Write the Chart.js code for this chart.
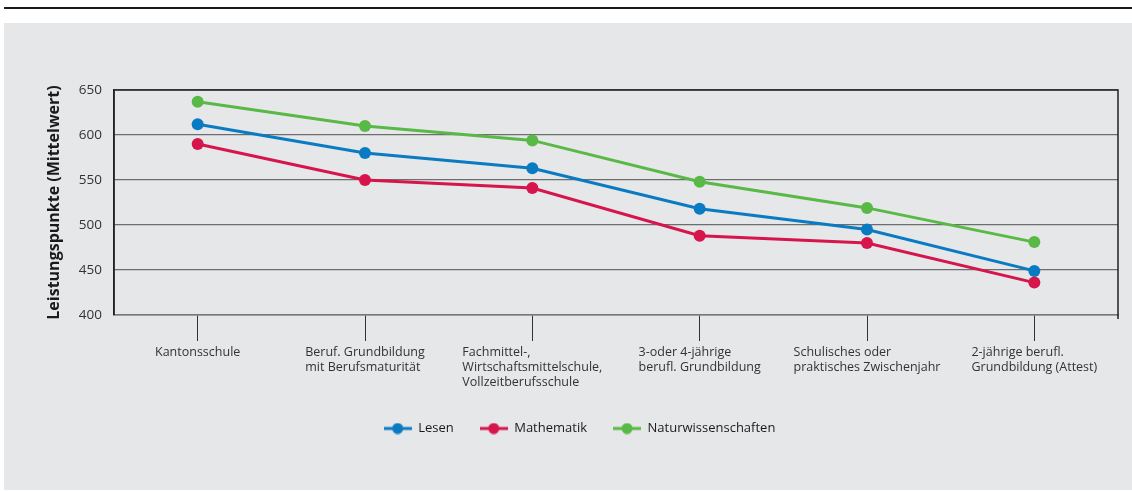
<!DOCTYPE html>
<html>
<head>
<meta charset="utf-8">
<script src="https://cdn.jsdelivr.net/npm/chart.js@4.4.0/dist/chart.umd.min.js"></script>
<style>
    html, body { margin: 0; padding: 0; background: #ffffff; }
    #wrap { position: relative; width: 1132px; height: 491px; overflow: hidden; }
    #topRule { position: absolute; left: 4px; right: 0; top: 7px; height: 2px; background: #1a1a1a; }
    #panel { position: absolute; left: 4px; right: 0; top: 23px; bottom: 1px; background: #e6e7e8; }
    #chartBox { position: absolute; left: 0; top: 0; width: 1132px; height: 491px; }
</style>
</head>
<body>
<div id="wrap">
    <div id="topRule"></div>
    <div id="panel"></div>
    <div id="chartBox"><canvas id="leistungChart" width="1132" height="491"></canvas></div>
</div>
<script>
// Data
const categories = [
    ['Kantonsschule'],
    ['Beruf. Grundbildung', 'mit Berufsmaturität'],
    ['Fachmittel-,', 'Wirtschaftsmittelschule,', 'Vollzeitberufsschule'],
    ['3-oder 4-jährige', 'berufl. Grundbildung'],
    ['Schulisches oder', 'praktisches Zwischenjahr'],
    ['2-jährige berufl.', 'Grundbildung (Attest)']
];
const lesen = [612, 580, 563, 518, 495, 449];
const mathematik = [590, 550, 541, 488, 480, 436];
const naturwissenschaften = [637, 610, 594, 548, 519, 481];
const yTicks = [400, 450, 500, 550, 600, 650];

const seriesColors = {
    lesen: '#0a7bc2',
    mathematik: '#d5154b',
    natur: '#59b946'
};

const fontFamily = '"Open Sans", "Noto Sans", sans-serif';

// small legend marker: line with a dot in the middle
function legendMarker(color) {
    const c = document.createElement('canvas');
    c.width = 28;
    c.height = 12;
    const g = c.getContext('2d');
    g.strokeStyle = color;
    g.lineWidth = 3;
    g.beginPath();
    g.moveTo(0, 6);
    g.lineTo(28, 6);
    g.stroke();
    g.fillStyle = color;
    g.beginPath();
    g.arc(14, 6, 5.5, 0, Math.PI * 2);
    g.fill();
    return c;
}

function makeDataset(label, data, color) {
    return {
        label: label,
        data: data,
        borderColor: color,
        backgroundColor: color,
        borderWidth: 3,
        pointRadius: 6,
        pointHoverRadius: 6,
        pointBackgroundColor: color,
        pointBorderWidth: 0,
        pointStyle: 'circle',
        tension: 0,
        fill: false,
        markerImg: legendMarker(color)
    };
}

// Frame around the plot area and left-aligned multi-line category labels
const framePlugin = {
    id: 'frame',
    afterDatasetsDraw(chart) {
        const { ctx, chartArea } = chart;
        ctx.save();
        ctx.strokeStyle = '#222222';
        ctx.lineWidth = 1.5;
        ctx.beginPath();
        ctx.moveTo(chartArea.left, chartArea.bottom);
        ctx.lineTo(chartArea.left, chartArea.top);
        ctx.lineTo(chartArea.right, chartArea.top);
        ctx.lineTo(chartArea.right, chartArea.bottom + 4);
        ctx.stroke();
        ctx.restore();
    },
    afterDraw(chart) {
        const { ctx, scales } = chart;
        const x = scales.x;
        ctx.save();
        ctx.font = '12.5px ' + fontFamily;
        ctx.fillStyle = '#333333';
        ctx.textAlign = 'left';
        ctx.textBaseline = 'top';
        categories.forEach((lines, i) => {
            const cx = x.getPixelForTick(i);
            const w = Math.max(...lines.map(l => ctx.measureText(l).width));
            lines.forEach((line, j) => {
                ctx.fillText(line, cx - w / 2, x.top + 31 + j * 15);
            });
        });
        ctx.restore();
    }
};

const ctx = document.getElementById('leistungChart').getContext('2d');

new Chart(ctx, {
    type: 'line',
    data: {
        labels: categories,
        datasets: [
            makeDataset('Lesen', lesen, seriesColors.lesen),
            makeDataset('Mathematik', mathematik, seriesColors.mathematik),
            makeDataset('Naturwissenschaften', naturwissenschaften, seriesColors.natur)
        ]
    },
    options: {
        responsive: false,
        animation: false,
        devicePixelRatio: 1,
        layout: {
            padding: { left: 41, right: 14, top: 90, bottom: 46 }
        },
        scales: {
            x: {
                offset: true,
                afterFit: scale => { scale.height = 81; },
                grid: {
                    offset: false,
                    drawOnChartArea: false,
                    drawTicks: true,
                    tickLength: 26,
                    tickColor: '#333333',
                    tickWidth: 1
                },
                border: { color: '#777777', width: 1.5 },
                ticks: { display: false }
            },
            y: {
                min: 400,
                max: 650,
                afterBuildTicks: scale => {
                    scale.ticks = yTicks.map(v => ({ value: v }));
                },
                afterFit: scale => { scale.width = 73; },
                grid: {
                    color: '#6d6d6d',
                    lineWidth: 1.2,
                    drawTicks: false
                },
                border: { color: '#222222', width: 1.5 },
                ticks: {
                    padding: 12,
                    color: '#333333',
                    font: { family: fontFamily, size: 13.5 }
                },
                title: {
                    display: true,
                    text: 'Leistungspunkte (Mittelwert)',
                    color: '#1a1a1a',
                    font: { family: fontFamily, size: 16, weight: 'bold' }
                }
            }
        },
        plugins: {
            legend: {
                display: true,
                position: 'bottom',
                labels: {
                    usePointStyle: true,
                    pointStyleWidth: 28,
                    padding: 26,
                    color: '#1a1a1a',
                    font: { family: fontFamily, size: 13 },
                    generateLabels: chart => chart.data.datasets.map((ds, i) => ({
                        text: ds.label,
                        pointStyle: ds.markerImg,
                        fillStyle: ds.borderColor,
                        strokeStyle: ds.borderColor,
                        lineWidth: 0,
                        hidden: false,
                        datasetIndex: i,
                        fontColor: '#1a1a1a'
                    }))
                }
            },
            tooltip: { enabled: false }
        }
    },
    plugins: [framePlugin]
});
</script>
</body>
</html>
